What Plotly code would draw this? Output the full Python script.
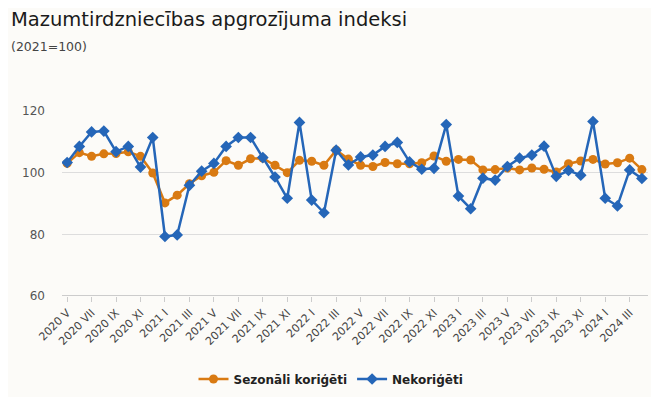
import plotly.graph_objects as go

roman = ["I", "II", "III", "IV", "V", "VI", "VII", "VIII", "IX", "X", "XI", "XII"]
months = []
y, m = 2020, 5
while (y, m) <= (2024, 4):
    months.append(f"{y} {roman[m-1]}")
    m += 1
    if m > 12:
        m = 1
        y += 1

seasonal = [103.0, 106.5, 105.3, 106.1, 106.2, 106.8, 105.3, 99.9,
            90.2, 92.7, 96.4, 99.0, 100.1, 103.9, 102.4, 104.5,
            104.7, 102.4, 100.0, 104.0, 103.7, 102.4, 107.3, 104.4,
            102.4, 102.0, 103.3, 102.9, 102.9, 103.2, 105.4, 103.7,
            104.3, 104.1, 100.9, 101.0, 101.5, 100.9, 101.5, 101.1,
            100.2, 102.9, 103.8, 104.3, 102.8, 103.2, 104.7, 101.0]
unadjusted = [103.3, 108.5, 113.2, 113.5, 106.8, 108.5, 101.8, 111.4,
              79.3, 79.8, 95.9, 100.5, 103.0, 108.5, 111.4, 111.4,
              104.9, 98.6, 91.7, 116.3, 91.1, 87.0, 107.3, 102.5,
              105.1, 105.7, 108.5, 109.8, 103.5, 101.1, 101.4, 115.6,
              92.4, 88.3, 98.2, 97.6, 102.0, 104.7, 105.7, 108.6,
              98.8, 100.7, 99.2, 116.6, 91.7, 89.2, 100.9, 98.1]

series_names = ["Sezonāli koriģēti", "Nekoriģēti"]
colors = ["#D97A12", "#2566B8"]

x = list(range(len(months)))
tickvals = x[::2]
ticktext = months[::2]

# page body has an 8px default margin, so the figure is offset by 8px
OFF = 8
W, H = 659 - OFF, 397 - OFF
L, R, T, B = 62 - OFF, 11, 111 - OFF, 101
pw, ph = W - L - R, H - T - B

def px_x(p):
    return (p - OFF - L) / pw

def px_y(p):
    return (H - B - (p - OFF)) / ph

fig = go.Figure()
fig.add_trace(go.Scatter(x=x, y=seasonal, name=series_names[0], mode="lines+markers",
                         line=dict(color=colors[0], width=2.5),
                         marker=dict(symbol="circle", size=9, color=colors[0])))
fig.add_trace(go.Scatter(x=x, y=unadjusted, name=series_names[1], mode="lines+markers",
                         line=dict(color=colors[1], width=2.5),
                         marker=dict(symbol="diamond", size=9, color=colors[1])))

fig.update_layout(
    width=W, height=H,
    margin=dict(l=L, r=R, t=T, b=B),
    paper_bgcolor="#FCFBF8", plot_bgcolor="#FCFBF8",
    font=dict(family="DejaVu Sans", color="#444"),
    showlegend=True,
    legend=dict(orientation="h", xref="container", x=(331 - OFF) / W, xanchor="center",
                yref="container", y=1 - (379 - OFF) / H, yanchor="middle",
                font=dict(size=12, color="#222", weight="bold"),
                itemwidth=30, tracegroupgap=0),
    xaxis=dict(range=[-0.42, 47.5], tickvals=tickvals, ticktext=ticktext, tickangle=-45,
               showgrid=False, zeroline=False, ticks="outside", ticklen=5, tickcolor="#ccc",
               tickfont=dict(size=11, color="#444"), showline=False),
    yaxis=dict(range=[60, 120], tickvals=[60, 80, 100, 120], showgrid=True,
               gridcolor="#DDDDDD", gridwidth=1, zeroline=False,
               tickfont=dict(size=12, color="#555"), ticklabelstandoff=16),
    annotations=[
        dict(text="Mazumtirdzniecības apgrozījuma indeksi", xref="paper", yref="paper",
             x=px_x(9), y=px_y(20), xanchor="left", yanchor="middle", showarrow=False,
             font=dict(size=19.5, color="#1a1a1a")),
        dict(text="(2021=100)", xref="paper", yref="paper",
             x=px_x(9), y=px_y(46), xanchor="left", yanchor="middle", showarrow=False,
             font=dict(size=12.5, color="#444")),
    ],
)
fig.add_shape(type="line", xref="paper", yref="y", x0=0, x1=1, y0=60, y1=60,
              line=dict(color="#CCCCCC", width=2))
fig.write_html("out.html")
